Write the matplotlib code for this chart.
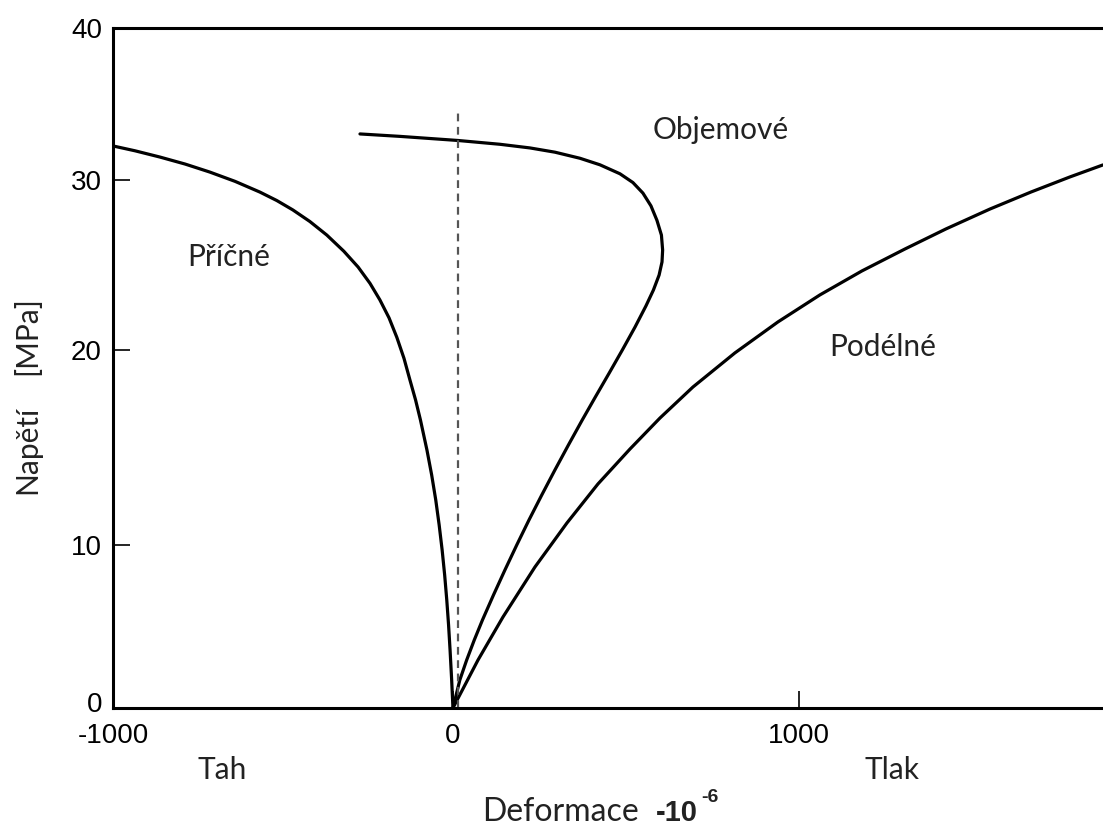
import matplotlib
matplotlib.use("Agg")
import numpy as np
import matplotlib.pyplot as plt
from matplotlib.transforms import ScaledTranslation

# strain (10^-6) vs stress (MPa)
pricne_x = [-1000, -935, -862, -788, -715, -641, -568, -518, -471, -421, -371, -321, -279, -244,
            -215, -188, -165, -144, -126.5, -110, -95.6, -76.5, -62.6, -50.6, -40.6, -31.8, -24.4,
            -18.2, -12.9, -8.5, -3.8, 0]
pricne_y = [32.24, 31.92, 31.51, 31.05, 30.52, 29.92, 29.29, 28.79, 28.24, 27.56, 26.76, 25.81, 24.88,
            23.92, 22.95, 21.89, 20.74, 19.57, 18.46, 17.44, 16.41, 14.87, 13.59, 12.31, 11.03, 9.69,
            8.16, 6.63, 5.09, 3.56, 1.72, 0]

objem_x = [-273.5, -155.9, 14.5, 135.8, 222.5, 294.8, 367.1, 424.9, 482.7, 520.2, 549.1, 572.3, 589.6,
           602.6, 606.1, 604.3, 595.9, 579.5, 557.8, 526.3, 489.6, 451.7, 411.6, 373.7, 333.8, 294.8,
           256.6, 219.7, 184.4, 150.3, 117.1, 85.3, 61.6, 39.6, 19.9, 0]
objem_y = [33.03, 32.87, 32.60, 32.35, 32.11, 31.83, 31.43, 31.0, 30.41, 29.85, 29.23, 28.48, 27.63,
           26.76, 25.88, 25.18, 24.41, 23.53, 22.59, 21.35, 20.0, 18.82, 17.59, 16.41, 15.13, 13.85,
           12.56, 11.28, 10.0, 8.47, 6.93, 5.40, 4.17, 2.94, 1.72, 0]

podel_x = [0, 72.3, 144.5, 237, 329.5, 419.1, 511.6, 598.3, 693.6, 815.0, 939.3, 1060.7, 1182.1,
           1306.4, 1424.9, 1552.0, 1670.5, 1783.2, 1878.6]
podel_y = [0, 2.94, 5.58, 8.65, 11.13, 13.13, 14.92, 16.51, 18.10, 19.85, 21.65, 23.24, 24.65,
           25.94, 27.12, 28.29, 29.29, 30.2, 30.99]

dash_x = 14
dash_top = 34.6

x_ticks = [-1000, 0, 1000]
y_ticks = [0, 10, 20, 30, 40]

# the scanned axes are not quite uniform: tick spacing in pixels from the original
x_knots = [-2000, -1000, 0, 1000, 2000]
x_pix = [-340, 0, 340, 686, 1032]
y_knots = [-10, 0, 10, 20, 30, 40, 50]
y_pix = [-163, 0, 163, 358, 528, 680, 832]


def xf(v):
    return np.interp(v, x_knots, x_pix)


def xi(p):
    return np.interp(p, x_pix, x_knots)


def yf(v):
    return np.interp(v, y_knots, y_pix)


def yi(p):
    return np.interp(p, y_pix, y_knots)


fig = plt.figure(figsize=(11.03, 8.25), dpi=100)
ax = fig.add_axes([113/1103, 117/825, 1 - 113/1103, 680/825])
ax.set_xscale('function', functions=(xf, xi))
ax.set_yscale('function', functions=(yf, yi))

ax.plot(pricne_x, pricne_y, color='black', lw=2.3, solid_capstyle='round', solid_joinstyle='round')
ax.plot(objem_x, objem_y, color='black', lw=2.3, solid_capstyle='round', solid_joinstyle='round')
ax.plot(podel_x, podel_y, color='black', lw=2.3, solid_capstyle='round', solid_joinstyle='round')
ax.plot([dash_x, dash_x], [0, dash_top], color='#555555', lw=1.6, linestyle=(0, (3.5, 2.5)))

ax.set_xlim(-1000, 1879)
ax.set_ylim(0, 40)
ax.set_xticks(x_ticks)
ax.set_yticks(y_ticks)
ax.set_xticklabels([str(v) for v in x_ticks])
ax.set_yticklabels([str(v) for v in y_ticks])
ax.minorticks_off()
ax.tick_params(direction='in', length=12, width=1.2, labelsize=20, pad=8)
ax.tick_params(axis='x', pad=11)
for lab in ax.get_xticklabels() + ax.get_yticklabels():
    lab.set_family('Liberation Sans')
# the "0" on the y axis sits a little above its tick in the original
zero_lab = ax.get_yticklabels()[0]
zero_lab.set_transform(zero_lab.get_transform() + ScaledTranslation(0, 6/100, fig.dpi_scale_trans))

ax.spines['right'].set_visible(False)
for s in ['left', 'bottom', 'top']:
    ax.spines[s].set_linewidth(2.2)

lato = dict(family='Lato', fontsize=21.5, color='#222222')
ax.text(-659, 25.5, 'Příčné', ha='center', va='center', **lato)
ax.text(775, 33.3, 'Objemové', ha='center', va='center', **lato)
ax.text(1243, 20.2, 'Podélné', ha='center', va='center', **lato)

fig.text(222/1103, 1 - 770/825, 'Tah', ha='center', va='center', **lato)
fig.text(892/1103, 1 - 770/825, 'Tlak', ha='center', va='center', **lato)
fig.text(482/1103, 1 - 812/825, 'Deformace', ha='left', va='center',
         family='Lato', fontsize=23, color='#222222')
fig.text(656/1103, 1 - 813/825, '-10', ha='left', va='center', family='Liberation Sans',
         fontweight='bold', fontsize=21, color='#222222')
fig.text(701/1103, 1 - 798/825, '-6', ha='left', va='center', family='Liberation Sans',
         fontweight='bold', fontsize=14, color='#222222')
fig.text(27/1103, 1 - 450/825, 'Napětí', rotation=90, ha='center', va='center', **lato)
fig.text(27/1103, 1 - 336/825, '[MPa]', rotation=90, ha='center', va='center', **lato)

fig.savefig('out.png', dpi=100)
